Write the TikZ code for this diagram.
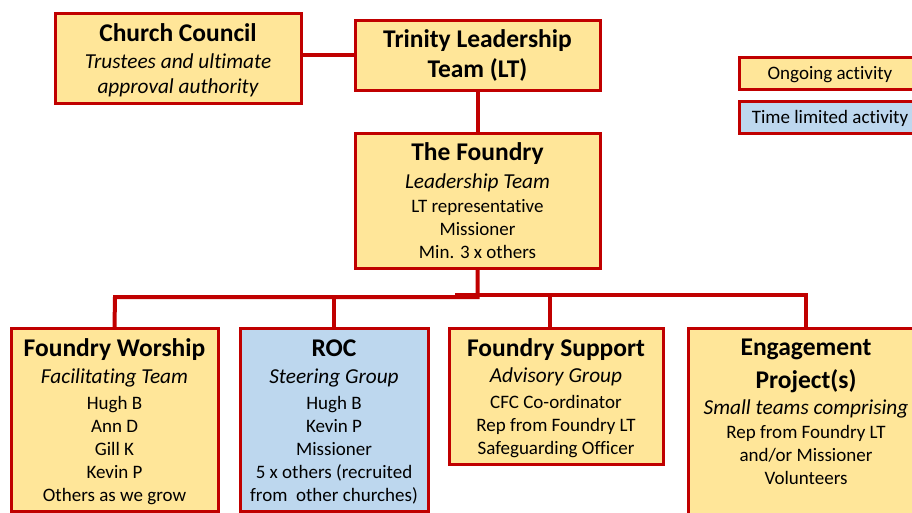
\documentclass[tikz,border=0pt]{standalone}
\usepackage{fontspec}
\setmainfont{Carlito}[Ligatures=NoCommon]
\definecolor{foundryred}{RGB}{192,0,0}
\definecolor{foundrygold}{RGB}{255,230,153}
\definecolor{foundryblue}{RGB}{189,215,238}
\newcommand{\orgtitle}[1]{{\fontsize{25.5}{28}\selectfont\bfseries #1}}
\newcommand{\orgsub}[1]{{\fontsize{21.3}{23}\selectfont\itshape #1}}

\begin{document}
\begin{tikzpicture}[x=1pt, y=-1pt,
  every node/.style={font=\fontsize{19}{23}\selectfont},
  orgbox/.style={draw=foundryred, line width=3pt, fill=foundrygold, align=center, inner sep=0pt, anchor=north},
  timebox/.style={orgbox, fill=foundryblue},
  link/.style={draw=foundryred, line width=4pt}]
\useasboundingbox (0,0) rectangle (912,513);
\clip (0,0) rectangle (912,513);

% Top level
\node[orgbox, minimum width=246pt, text height=79.7pt, text depth=10.3pt] (council) at (178,12)
  {\orgtitle{Church Council}\\[3.7pt] \orgsub{Trustees and ultimate}\\[2pt] \orgsub{approval authority}};
\node[orgbox, minimum width=245pt, text height=57pt, text depth=13pt] (tlt) at (477.5,19)
  {\orgtitle{Trinity Leadership}\\[7.3pt] \orgtitle{Team (LT)}};

% Legend
\node[orgbox, minimum width=182pt, text height=22.3pt, text depth=9.7pt] (ongoing) at (830,56) {Ongoing activity};
\node[timebox, minimum width=182pt, text height=22.3pt, text depth=9.7pt] (timelimited) at (830,100) {Time limited activity};

% The Foundry
\node[orgbox, minimum width=245pt, text height=124.7pt, text depth=10.3pt] (foundry) at (477.5,132)
  {\orgtitle{The Foundry}\\[4.4pt] \orgsub{Leadership Team}\\[1pt] LT representative\\ Missioner\\ Min. 3 x others};

% Groups
\node[orgbox, minimum width=207pt, text height=173pt, text depth=10pt] (worship) at (114.5,327)
  {\orgtitle{Foundry Worship}\\[3.7pt] \orgsub{Facilitating Team}\\[3pt] Hugh B\\ Ann D\\ Gill K\\ Kevin P\\ Others as we grow};
\node[timebox, minimum width=188pt, text height=173pt, text depth=10pt] (roc) at (334,327)
  {\orgtitle{ROC}\\[3.7pt] \orgsub{Steering Group}\\[3pt] Hugh B\\ Kevin P\\ Missioner\\ 5 x others (recruited\\ from~ other churches)};
\node[orgbox, minimum width=214pt, text height=126.3pt, text depth=9.7pt] (support) at (556,327)
  {\orgtitle{Foundry Support}\\[3.7pt] \orgsub{Advisory Group}\\[3pt] CFC Co-ordinator\\ Rep from Foundry LT\\ Safeguarding Officer};
\node[orgbox, minimum width=236pt, text height=156.3pt, text depth=60pt] (engage) at (806,327)
  {\orgtitle{Engagement}\\[8.7pt] \orgtitle{Project(s)}\\[3pt] \orgsub{Small teams comprising}\\[1pt] Rep from Foundry LT\\ and/or Missioner\\ Volunteers};

% Connectors
\coordinate (busleft) at (115,297);
\coordinate (busright) at (455,295);
\draw[link] (council.east |- tlt.west) -- (tlt.west);
\draw[link] (tlt.south) -- (foundry.north);
\draw[link] (foundry.south) |- (busleft) -- (worship.north);
\draw[link] (roc.north) -- (roc.north |- busleft);
\draw[link] (busright) -| (engage.north);
\draw[link] ([xshift=-6pt]support.north) -- ([xshift=-6pt]support.north |- busright);
\end{tikzpicture}
\end{document}
